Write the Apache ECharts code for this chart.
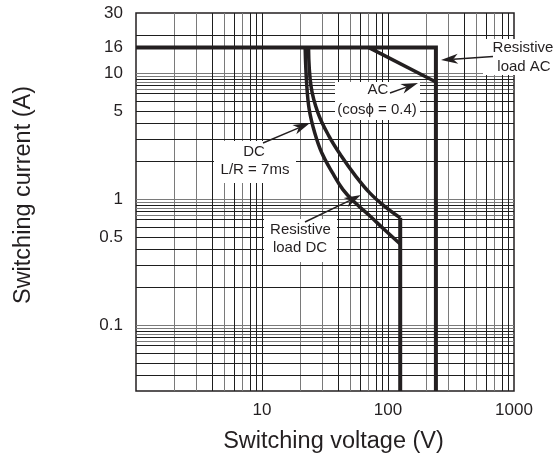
<!DOCTYPE html>
<html><head><meta charset="utf-8">
<script src="https://cdn.jsdelivr.net/npm/echarts@6/dist/echarts.min.js"></script>
<style>html,body{margin:0;padding:0;background:#fff}#c{width:558px;height:461px}</style>
</head><body><div id="c"></div>
<script>
// ---- tick labels ----
const xTickLabels = [10, 100, 1000];
const yTickLabels = [0.1, 0.5, 1, 5, 10, 16, 30];

// ---- log-paper grid lines ----
const xGridDark = [4, 6, 8, 9, 10, 40, 60, 80, 90, 100, 400, 600, 800, 900];
const xGridLight = [2, 3, 5, 7, 20, 30, 50, 70, 200, 300, 500, 700];
const yGridDark = [0.04, 0.05, 0.06, 0.07, 0.08, 0.09, 0.2, 0.3, 0.4, 0.5, 0.6, 0.7, 0.8, 0.9, 2, 3, 4, 5, 6, 7, 8, 9, 20];
const yGridLight = [0.075, 0.085, 0.095, 0.1, 0.75, 0.85, 0.95, 1, 7.5, 8.5, 9.5, 10];

// ---- curves (voltage V, current A) ----
const resistiveAC = [[1, 16], [240, 16], [240, 0.03]];
const inductiveAC = [[70, 16], [240, 8.5]];
const inductiveDC = [[22.0, 16], [22.6, 8.36], [23.7, 5.14], [26.2, 3.36], [29.8, 2.33], [36.2, 1.62], [43.9, 1.19], [55.2, 0.93], [71.6, 0.737], [93, 0.576], [125, 0.44]];
const resistiveDC = [[23.4, 16], [24.5, 7.87], [27.8, 4.84], [33.9, 3.18], [42.6, 2.2], [55.2, 1.53], [71.6, 1.12], [93, 0.884], [125, 0.71]];
const dcVoltageLimit = [[125, 0.71], [125, 0.03]];

const INK = '#231f20';
const FONT = '"Liberation Sans", Arial, Helvetica, sans-serif';

function gridSeries(vals, vertical, color) {
  return {
    type: 'custom', silent: true, z: 1, animation: false,
    data: vals.map(v => vertical ? [v, 1] : [1, v]),
    renderItem(params, api) {
      const cs = params.coordSys;
      if (vertical) {
        const x = Math.round(api.coord([api.value(0), 1])[0]) + 0.5;
        return { type: 'line', shape: { x1: x, y1: cs.y, x2: x, y2: cs.y + cs.height }, style: { stroke: color, lineWidth: 1 } };
      }
      const y = Math.round(api.coord([1, api.value(1)])[1]) + 0.5;
      return { type: 'line', shape: { x1: cs.x, y1: y, x2: cs.x + cs.width, y2: y }, style: { stroke: color, lineWidth: 1 } };
    }
  };
}
function curve(name, data, width, smooth) {
  return {
    name, type: 'line', data, symbol: 'none', smooth: smooth || false, z: 5, silent: true,
    lineStyle: { color: INK, width, join: 'miter', cap: 'butt' }
  };
}
function arrow(x1, y1, x2, y2) {
  const L = 17, W = 5;
  const dx = x2 - x1, dy = y2 - y1, d = Math.hypot(dx, dy);
  const ux = dx / d, uy = dy / d, nx = -uy, ny = ux;
  const bx = x2 - ux * L, by = y2 - uy * L;
  const mx = x2 - ux * L * 0.72, my = y2 - uy * L * 0.72;
  return [
    { type: 'line', z: 102, shape: { x1, y1, x2: mx, y2: my }, style: { stroke: INK, lineWidth: 1.4 } },
    { type: 'polygon', z: 102, shape: { points: [[x2, y2], [bx + nx * W, by + ny * W], [mx, my], [bx - nx * W, by - ny * W]] }, style: { fill: INK } }
  ];
}
function box(x, y, w, h) {
  return { type: 'rect', z: 100, shape: { x, y, width: w, height: h }, style: { fill: '#fff' } };
}
function txt(s, x, y) {
  return { type: 'text', z: 101, x, y, style: { text: s, fill: INK, font: '15px ' + FONT, align: 'center', verticalAlign: 'middle' } };
}

const chart = echarts.init(document.getElementById('c'), null, { renderer: 'canvas' });
chart.setOption({
  animation: false,
  backgroundColor: '#fff',
  grid: { left: 136, top: 13, width: 378, height: 378, show: true, borderColor: INK, borderWidth: 1.5, backgroundColor: 'transparent' },
  xAxis: {
    type: 'log', logBase: 10, min: 1, max: 1000,
    axisLine: { show: false }, axisTick: { show: false }, splitLine: { show: false },
    axisLabel: { customValues: xTickLabels, fontSize: 17, color: INK, fontFamily: FONT, margin: 11, formatter: v => String(+(+v).toPrecision(6)) },
    name: 'Switching voltage (V)', nameLocation: 'middle', nameGap: 39,
    nameTextStyle: { fontSize: 23.5, color: INK, fontFamily: FONT, padding: [0, 0, 0, 17] }
  },
  yAxis: {
    type: 'log', logBase: 10, min: 0.03, max: 30,
    axisLine: { show: false }, axisTick: { show: false }, splitLine: { show: false },
    axisLabel: { customValues: yTickLabels, fontSize: 17, color: INK, fontFamily: FONT, margin: 13, formatter: v => String(+(+v).toPrecision(6)) },
    name: 'Switching current (A)', nameLocation: 'middle', nameGap: 100,
    nameTextStyle: { fontSize: 23.5, color: INK, fontFamily: FONT, padding: [0, 0, 0, 14] }
  },
  series: [
    gridSeries(xGridLight, true, '#7a7a7a'),
    gridSeries(yGridLight, false, '#7a7a7a'),
    gridSeries(xGridDark, true, '#1e1e1e'),
    gridSeries(yGridDark, false, '#1e1e1e'),
    curve('Resistive load AC', resistiveAC, 4),
    curve('AC (cosϕ = 0.4)', inductiveAC, 3.5),
    curve('DC L/R = 7ms', inductiveDC, 3.5, 0.4),
    curve('Resistive load DC', resistiveDC, 3.5, 0.4),
    curve('DC limit', dcVoltageLimit, 4)
  ],
  graphic: [
    box(483, 39, 75, 36), txt('Resistive', 523, 48), txt('load AC', 524, 67),
    box(335, 82, 85, 38), txt('AC', 378, 90), txt('(cosϕ = 0.4)', 377, 110),
    box(214, 141, 82, 42), txt('DC', 254, 152), txt('L/R = 7ms', 255, 170),
    box(264, 219, 73, 43), txt('Resistive', 300.5, 229.5), txt('load DC', 300, 247.5),
    ...arrow(493, 56.5, 441, 60),
    ...arrow(390, 93, 418, 83),
    ...arrow(263, 143, 310, 123),
    ...arrow(305, 222, 361, 195)
  ]
});
</script></body></html>
